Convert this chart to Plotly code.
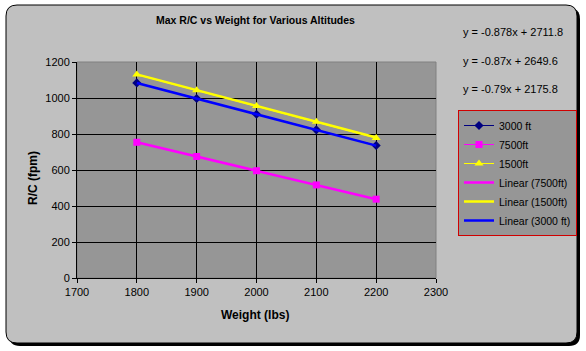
import plotly.graph_objects as go

weights = [1800, 1900, 2000, 2100, 2200]
rc_3000 = [1084, 997, 910, 823, 736]
rc_7500 = [754, 675, 596, 517, 438]
rc_1500 = [1130, 1043, 955, 868, 778]

trend_names = ["Linear (7500ft)", "Linear (1500ft)", "Linear (3000 ft)"]
trend_slopes = [-0.79, -0.878, -0.87]
trend_intercepts = [2175.8, 2711.8, 2649.6]
trend_colors = ["#FF00FF", "#FFFF00", "#0000FF"]
equation_labels = ["y = -0.878x + 2711.8", "y = -0.87x + 2649.6", "y = -0.79x + 2175.8"]

W, H = 586, 351
L, R, T, B = 77, 436, 62, 278  # plot area pixels


def fx(px):
    return (px - L) / (R - L)


def fy(py):
    return (B - py) / (B - T)


def rounded(x0, y0, x1, y1, r):
    rx = r / (R - L)
    ry = r / (B - T)
    a, b, c, d = fx(x0), fy(y0), fx(x1), fy(y1)
    return (f"M {a+rx},{b} L {c-rx},{b} Q {c},{b} {c},{b-ry} "
            f"L {c},{d+ry} Q {c},{d} {c-rx},{d} L {a+rx},{d} "
            f"Q {a},{d} {a},{d+ry} L {a},{b-ry} Q {a},{b} {a+rx},{b} Z")


font = "Liberation Sans, Arial, sans-serif"
fig = go.Figure()

fig.add_trace(go.Scatter(x=weights, y=rc_3000, name="3000 ft", mode="lines+markers",
                         line=dict(color="#000080", width=1),
                         marker=dict(symbol="diamond", size=7, color="#000080")))
fig.add_trace(go.Scatter(x=weights, y=rc_7500, name="7500ft", mode="lines+markers",
                         line=dict(color="#FF00FF", width=1),
                         marker=dict(symbol="square", size=7, color="#FF00FF")))
fig.add_trace(go.Scatter(x=weights, y=rc_1500, name="1500ft", mode="lines+markers",
                         line=dict(color="#FFFF00", width=1),
                         marker=dict(symbol="triangle-up", size=8, color="#FFFF00")))

xs = [weights[0], weights[-1]]
for name, m, c, col in zip(trend_names, trend_slopes, trend_intercepts, trend_colors):
    fig.add_trace(go.Scatter(x=xs, y=[m * v + c for v in xs], name=name, mode="lines",
                             line=dict(color=col, width=2.5)))

shapes = [
    dict(type="path", xref="paper", yref="paper", path=rounded(9, 8, 580, 346, 11),
         fillcolor="black", line=dict(width=0), layer="below"),
    dict(type="path", xref="paper", yref="paper", path=rounded(6, 5, 577, 343, 11),
         fillcolor="#C0C0C0", line=dict(color="black", width=1), layer="below"),
    dict(type="rect", xref="paper", yref="paper", x0=0, y0=0, x1=1, y1=1,
         fillcolor="#969696", line=dict(color="#808080", width=1), layer="below"),
]

annotations = [
    dict(text="<b>Max R/C vs Weight for Various Altitudes</b>", x=fx(255), y=fy(20),
         xref="paper", yref="paper", showarrow=False, xanchor="center", yanchor="middle",
         font=dict(family=font, size=10.5, color="black")),
    dict(text="<b>Weight (lbs)</b>", x=fx(255), y=fy(315), xref="paper", yref="paper",
         showarrow=False, xanchor="center", yanchor="middle",
         font=dict(family=font, size=12, color="black")),
    dict(text="<b>R/C (fpm)</b>", x=fx(33), y=fy(178), xref="paper", yref="paper",
         showarrow=False, xanchor="center", yanchor="middle", textangle=-90,
         font=dict(family=font, size=12, color="black")),
]
for lab, py in zip(equation_labels, [32, 61, 89]):
    annotations.append(dict(text=lab, x=fx(461), y=fy(py), xref="paper", yref="paper",
                            showarrow=False, xanchor="left", yanchor="middle",
                            font=dict(family=font, size=11, color="black")))

fig.update_layout(
    width=W, height=H,
    margin=dict(l=L, r=W - R, t=T, b=H - B, autoexpand=False),
    paper_bgcolor="white", plot_bgcolor="rgba(0,0,0,0)",
    font=dict(family=font, size=11, color="black"),
    shapes=shapes, annotations=annotations,
    legend=dict(x=fx(458), y=fy(110), xanchor="left", yanchor="top",
                bgcolor="#969696", bordercolor="#D00000", borderwidth=1,
                font=dict(family=font, size=10.5, color="black"),
                itemwidth=30, tracegroupgap=0),
    xaxis=dict(range=[1700, 2300], dtick=100, showgrid=True, gridcolor="black", gridwidth=1,
               showline=True, linecolor="black", linewidth=1, ticks="outside", ticklen=4,
               tickcolor="black", zeroline=False, fixedrange=True),
    yaxis=dict(range=[0, 1200], dtick=200, showgrid=True, gridcolor="black", gridwidth=1,
               showline=True, linecolor="black", linewidth=1, ticks="outside", ticklen=4,
               tickcolor="black", zeroline=False, fixedrange=True),
)

fig.write_html("out.html")
